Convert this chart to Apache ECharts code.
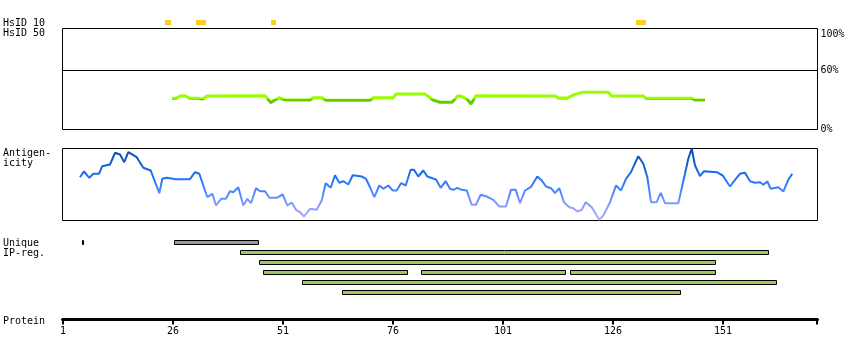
<!DOCTYPE html>
<html>
<head>
<meta charset="utf-8">
<script src="https://cdn.jsdelivr.net/npm/echarts@6/dist/echarts.min.js"></script>
<style>
html,body{margin:0;padding:0;background:#fff;}
#chart{width:850px;height:360px;}
</style>
</head>
<body>
<div id="chart"></div>
<script>
// ---------------- data ----------------
const tickLabels = [1, 26, 51, 76, 101, 126, 151];

// HsID 10 marks (residue start / end)
const hsid10Start = [24.2, 31.2, 48.3, 131.2];
const hsid10End   = [25.55, 33.5, 49.4, 133.5];

// HsID 50 identity (%)
const hsid50Res = [25.77, 26.68, 27.59, 28.73, 29.86, 31.68, 32.75, 33.73, 46.91, 47.59, 48.2, 49.18, 50.09, 51.23, 51.91, 57.14, 57.82, 59.86, 60.77, 70.77, 71.45, 76.0, 76.68, 83.27, 84.41, 85.09, 86.68, 89.41, 90.77, 91.68, 92.82, 93.73, 94.86, 112.82, 113.5, 115.55, 117.36, 119.18, 124.86, 125.77, 132.82, 133.5, 143.95, 144.64, 146.91];
const hsid50Pct = [31.7, 31.7, 34, 34.3, 31.7, 31.7, 31, 34, 34.3, 31, 27.3, 30, 32.3, 30.5, 30, 30, 32.3, 32.3, 29.7, 29.7, 32.3, 32.3, 36, 36, 32.3, 30, 27.7, 27.7, 34.3, 33.5, 31, 26, 34.3, 34, 32, 32, 35.7, 38, 38, 34, 34, 31.7, 31.7, 30, 30];

// Antigenicity (relative score)
const antigenRes = [4.86, 5.77, 6.98, 7.89, 9.18, 9.93, 11.68, 12.82, 13.95, 14.93, 15.84, 17.75, 19.25, 20.93, 22.89, 23.57, 24.57, 26.61, 29.86, 31.0, 31.98, 33.8, 34.93, 35.77, 36.91, 38.05, 38.95, 39.7, 40.84, 41.98, 42.89, 43.73, 44.86, 45.77, 46.91, 47.89, 49.57, 50.93, 51.98, 52.98, 53.95, 54.86, 55.77, 57.14, 58.66, 59.8, 60.7, 61.84, 62.82, 63.8, 64.7, 65.84, 66.84, 68.89, 69.86, 70.77, 71.75, 72.89, 73.8, 74.93, 75.93, 76.84, 77.82, 78.89, 80.02, 80.77, 81.75, 82.89, 83.8, 85.77, 86.84, 87.98, 88.95, 89.7, 90.61, 91.61, 92.75, 93.89, 94.86, 95.93, 97.3, 98.8, 100.16, 101.68, 102.82, 103.89, 104.86, 106.0, 107.3, 108.8, 109.8, 110.77, 111.91, 112.82, 113.8, 114.86, 116.07, 116.98, 117.89, 118.89, 119.8, 121.16, 122.89, 123.8, 125.32, 126.68, 127.82, 128.95, 130.09, 131.75, 132.89, 133.8, 134.64, 135.93, 136.84, 137.82, 140.84, 142.36, 143.11, 143.89, 144.64, 145.77, 146.68, 149.57, 150.93, 152.59, 153.73, 154.86, 156.0, 157.14, 158.27, 159.41, 160.16, 161.07, 161.84, 163.57, 164.7, 165.84, 166.75];
const antigenVal = [43.3, 49, 42.7, 46.7, 46.7, 54.3, 56, 67.7, 66, 58.3, 68.3, 63.3, 52.7, 50, 27.3, 41.7, 42.7, 41.3, 41.3, 48.3, 46.7, 23.3, 26.7, 15, 21.7, 21.7, 29.3, 28.3, 33.3, 15, 21.7, 17.3, 32.3, 29.3, 29.3, 22.7, 22.7, 26, 15, 18, 10.7, 8.3, 4, 11.7, 10.7, 20, 37.3, 32.7, 45.3, 37.7, 39.3, 36, 45.3, 44, 41.7, 33.3, 23.3, 35, 31.7, 35, 30, 30, 37.3, 35, 50.7, 50.7, 44, 50, 44, 41, 32.7, 39.3, 31.7, 30.7, 32.7, 30.7, 30, 15.7, 15.7, 25.7, 24, 20.7, 14, 14, 30.7, 30.7, 17.3, 30, 33.3, 44, 40, 34, 32.3, 27.3, 32.3, 18.3, 13.3, 12.3, 9, 10.7, 18.3, 13.3, 0.7, 5, 18.3, 35, 30, 41.7, 48.3, 64.3, 56.7, 43.3, 18.3, 18.3, 27.7, 17.3, 17.3, 46.7, 61.7, 71.7, 55, 44.3, 49.3, 48.3, 45, 34, 40.7, 46.7, 47.7, 39.3, 37.7, 38.3, 35.7, 39, 31.7, 33.3, 29, 40.7, 46.7];

// Unique / IP-region bars
const regionStart = [5.4, 26.23, 41.3, 45.5, 46.4, 82.25, 116.2, 55.4, 64.3];
const regionEnd   = [5.75, 45.48, 161.4, 149.3, 79.3, 115.25, 149.3, 163.2, 141.4];
const regionRow   = [0, 0, 1, 2, 3, 3, 3, 4, 5];
const regionType  = ['tick', 'unique', 'ip', 'ip', 'ip', 'ip', 'ip', 'ip', 'ip'];

// ---------------- layout ----------------
const PX = 4.4;
const LEFT = 62.5, WIDTH = 755;
const xMin = 1 - 0.5 / PX;
const xMax = xMin + WIDTH / PX;
const FONT = 'DejaVu Sans Mono';
const regionColors = { tick: '#000000', unique: '#999999', ip: '#a0c860' };

const chart = echarts.init(document.getElementById('chart'), null, { renderer: 'canvas' });

const grids = [
  { left: LEFT, width: WIDTH, top: 20, height: 5, show: false },
  { left: LEFT, width: WIDTH, top: 28.5, height: 42, show: true, borderColor: '#000', borderWidth: 1, backgroundColor: 'transparent' },
  { left: LEFT, width: WIDTH, top: 70.5, height: 59, show: true, borderColor: '#000', borderWidth: 1, backgroundColor: 'transparent' },
  { left: LEFT, width: WIDTH, top: 148.5, height: 72, show: true, borderColor: '#000', borderWidth: 1, backgroundColor: 'transparent' },
  { left: LEFT, width: WIDTH, top: 237, height: 60, show: false },
  { left: LEFT, width: WIDTH, top: 309.5, height: 10, show: false }
];

const hiddenX = (i) => ({ type: 'value', gridIndex: i, min: xMin, max: xMax, show: false });
const xAxes = [hiddenX(0), hiddenX(1), hiddenX(2), hiddenX(3), hiddenX(4), {
  type: 'value', gridIndex: 5, min: xMin, max: xMax, position: 'bottom',
  axisLine: { show: true, lineStyle: { color: '#000', width: 3 } },
  axisTick: { show: true, length: 5, lineStyle: { color: '#000', width: 2 }, customValues: tickLabels.concat([xMax - 0.1]) },
  axisLabel: { show: true, customValues: tickLabels, margin: 7, color: '#000', fontFamily: FONT, fontSize: 10 },
  splitLine: { show: false }
}];

const pctLabel = { color: '#000', fontFamily: FONT, fontSize: 10, margin: 3, formatter: '{value}%' };
const yAxes = [
  { type: 'value', gridIndex: 0, min: 0, max: 1, show: false },
  { type: 'value', gridIndex: 1, min: 60, max: 100, position: 'right',
    axisLine: { show: false }, axisTick: { show: false }, splitLine: { show: false },
    axisLabel: Object.assign({}, pctLabel, { customValues: [100], verticalAlign: 'top', padding: [1, 0, 0, 0] }) },
  { type: 'value', gridIndex: 2, min: 0, max: 60, position: 'right',
    axisLine: { show: false }, axisTick: { show: false }, splitLine: { show: false },
    axisLabel: Object.assign({}, pctLabel, { customValues: [0, 60], padding: [3, 0, 0, 0] }) },
  { type: 'value', gridIndex: 3, min: 0, max: 72, show: false },
  { type: 'value', gridIndex: 4, min: 0, max: 6, inverse: true, show: false },
  { type: 'value', gridIndex: 5, min: 0, max: 1, show: false }
];

const hsid10Data = hsid10Start.map((s, i) => [s, hsid10End[i]]);
const hsid50Data = hsid50Res.map((r, i) => [r, hsid50Pct[i]]);
const antigenData = antigenRes.map((r, i) => [r, antigenVal[i]]);
const regionData = regionStart.map((s, i) => [s, regionEnd[i], regionRow[i], i]);

const leftText = (txt, y) => ({
  type: 'text', left: 3, top: y - 4,
  style: { text: txt, fill: '#000', font: '10px ' + FONT }
});

chart.setOption({
  animation: false,
  backgroundColor: '#fff',
  grid: grids,
  xAxis: xAxes,
  yAxis: yAxes,
  visualMap: [
    { type: 'piecewise', show: false, seriesIndex: 1, dimension: 1,
      pieces: [{ lt: 31, color: '#66cc00' }, { gte: 31, lte: 100, color: '#99ff00' }, { gt: 100, color: '#99ff00' }] },
    { type: 'continuous', show: false, seriesIndex: 2, dimension: 1, min: 0, max: 72,
      inRange: { color: ['#b8a8ff', '#8c9cff', '#4a86ff', '#1e72f5', '#105ccc', '#0a48a8'] } }
  ],
  graphic: [
    leftText('HsID 10', 22.5),
    leftText('HsID 50', 32.5),
    leftText('Antigen-', 152.5),
    leftText('icity', 162.5),
    leftText('Unique', 242.5),
    leftText('IP-reg.', 252.5),
    leftText('Protein', 320)
  ],
  series: [
    {
      type: 'custom', xAxisIndex: 0, yAxisIndex: 0, data: hsid10Data,
      encode: { x: [0, 1] },
      renderItem: function (params, api) {
        const s = api.coord([api.value(0), 1]);
        const e = api.coord([api.value(1), 0]);
        const x = Math.round(s[0]);
        return { type: 'rect', shape: { x: x, y: Math.round(s[1]), width: Math.round(e[0]) - x, height: Math.round(e[1]) - Math.round(s[1]) },
          style: { fill: '#ffcc22' } };
      }
    },
    {
      type: 'line', xAxisIndex: 2, yAxisIndex: 2, data: hsid50Data,
      showSymbol: false, symbol: 'none', lineStyle: { width: 3 }
    },
    {
      type: 'line', xAxisIndex: 3, yAxisIndex: 3, data: antigenData,
      showSymbol: false, symbol: 'none', lineStyle: { width: 2 }
    },
    {
      type: 'custom', xAxisIndex: 4, yAxisIndex: 4, data: regionData,
      encode: { x: [0, 1], y: 2 },
      renderItem: function (params, api) {
        const row = api.value(2);
        const idx = api.value(3);
        const s = api.coord([api.value(0), row + 0.5]);
        const e = api.coord([api.value(1), row + 0.5]);
        const x0 = Math.round(s[0]) + 0.5;
        const x1 = Math.round(e[0]) - 0.5;
        const y0 = Math.floor(s[1] - 2) + 0.5;
        return { type: 'rect', shape: { x: x0, y: y0, width: Math.max(x1 - x0, 0.5), height: 4 },
          style: { fill: regionColors[regionType[idx]], stroke: '#000', lineWidth: 1 } };
      }
    }
  ]
});
</script>
</body>
</html>
